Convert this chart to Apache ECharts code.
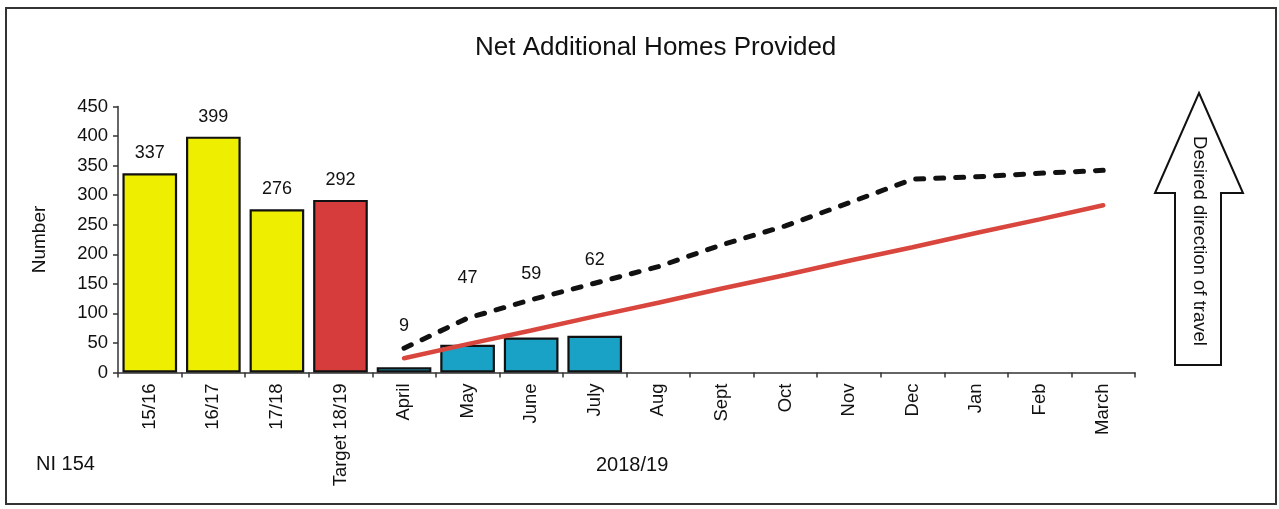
<!DOCTYPE html>
<html>
<head>
<meta charset="utf-8">
<title>Net Additional Homes Provided</title>
<script src="https://cdn.jsdelivr.net/npm/echarts@6/dist/echarts.min.js"></script>
<style>
  html, body { margin: 0; padding: 0; background: #fff; }
  #chart { width: 1279px; height: 509px; }
</style>
</head>
<body>
<div id="chart"></div>
<script>
// Categories: three past years, the 18/19 target, then the months of 2018/19
const categories = ['15/16', '16/17', '17/18', 'Target 18/19',
  'April', 'May', 'June', 'July', 'Aug', 'Sept', 'Oct', 'Nov', 'Dec', 'Jan', 'Feb', 'March'];

// Annual totals and the annual target
const annualValues = [337, 399, 276, 292];
// Monthly completions reported so far in 2018/19
const monthValues = [9, 47, 59, 62, null, null, null, null, null, null, null, null];
// Cumulative profile (dashed black) and target trajectory (red), April to March
const profileValues = [41, 92, 123, 151, 179, 216, 248, 287, 327, 331, 337, 342];
const targetLine = [24, 48, 71, 95, 118, 142, 165, 189, 212, 236, 259, 283];

const yTicks = { min: 0, max: 450, step: 50 };

const FONT = '"Liberation Sans", Arial, sans-serif';
const YELLOW = '#eeee00';
const RED_BAR = '#d63c3c';
const TEAL = '#1aa2c6';

// Lift the monthly value labels clear of the dashed line
const monthLabelDistance = [32, 58, 55, 67];

const pad = new Array(annualValues.length).fill(null);

const barData = categories.map((c, i) => {
  if (i < annualValues.length) {
    return {
      value: annualValues[i],
      itemStyle: { color: i === 3 ? RED_BAR : YELLOW },
      label: { show: true, distance: 11 }
    };
  }
  const m = i - annualValues.length;
  const v = monthValues[m];
  return {
    value: v,
    itemStyle: { color: TEAL },
    label: { show: v != null, distance: monthLabelDistance[m] || 11 }
  };
});

const chart = echarts.init(document.getElementById('chart'), null, { renderer: 'canvas' });

chart.setOption({
  backgroundColor: '#ffffff',
  animation: false,
  textStyle: { fontFamily: FONT },
  grid: { left: 118, right: 144, top: 106.5, bottom: 136.5, containLabel: false },
  xAxis: {
    type: 'category',
    data: categories,
    boundaryGap: true,
    axisLine: { show: true, lineStyle: { color: '#333', width: 1.5 } },
    axisTick: { show: true, inside: false, length: 5, alignWithLabel: false, lineStyle: { color: '#333', width: 1.5 } },
    axisLabel: { rotate: 90, margin: 11, fontSize: 18.5, color: '#111', fontFamily: FONT, interval: 0 },
    splitLine: { show: false }
  },
  yAxis: {
    type: 'value',
    min: yTicks.min,
    max: yTicks.max,
    interval: yTicks.step,
    name: 'Number',
    nameLocation: 'middle',
    nameRotate: 90,
    nameGap: 69,
    nameTextStyle: { fontSize: 19, color: '#111', fontFamily: FONT },
    axisLine: { show: true, lineStyle: { color: '#333', width: 1.5 } },
    axisTick: { show: true, length: 5, lineStyle: { color: '#333', width: 1.5 } },
    axisLabel: { fontSize: 18.5, color: '#111', margin: 10, fontFamily: FONT },
    splitLine: { show: false }
  },
  series: [
    {
      name: 'Homes',
      type: 'bar',
      data: barData,
      barCategoryGap: '14%',
      itemStyle: { borderColor: '#111', borderWidth: 2.2 },
      label: { position: 'top', fontSize: 18, color: '#111', fontFamily: FONT },
      z: 2
    },
    {
      name: 'Profile',
      type: 'line',
      data: pad.concat(profileValues),
      symbol: 'none',
      lineStyle: { color: '#111', width: 5, type: [8, 12], cap: 'round' },
      z: 3
    },
    {
      name: 'Target',
      type: 'line',
      data: pad.concat(targetLine),
      symbol: 'none',
      lineStyle: { color: '#d9463e', width: 4.5, cap: 'round' },
      z: 4
    }
  ],
  graphic: [
    {
      type: 'rect',
      shape: { x: 6, y: 8, width: 1270, height: 496 },
      style: { fill: 'none', stroke: '#333', lineWidth: 2 },
      silent: true
    },
    {
      type: 'text',
      left: 475, top: 35,
      style: { text: 'Net Additional Homes Provided', fill: '#111', font: '26px ' + FONT }
    },
    {
      type: 'text',
      left: 36, top: 454,
      style: { text: 'NI 154', fill: '#111', font: '20px ' + FONT }
    },
    {
      type: 'text',
      left: 596, top: 455,
      style: { text: '2018/19', fill: '#111', font: '20px ' + FONT }
    },
    {
      // Upward arrow marking the desired direction
      type: 'polygon',
      shape: {
        points: [[1199, 93], [1243, 193], [1221, 193], [1221, 365], [1175, 365], [1175, 193], [1155, 193]]
      },
      style: { fill: '#fff', stroke: '#111', lineWidth: 2 }
    },
    {
      type: 'text',
      x: 1199, y: 241,
      rotation: -Math.PI / 2,
      style: {
        text: 'Desired direction of travel',
        fill: '#111',
        font: '18.5px ' + FONT,
        align: 'center',
        verticalAlign: 'middle'
      }
    }
  ]
});
</script>
</body>
</html>
